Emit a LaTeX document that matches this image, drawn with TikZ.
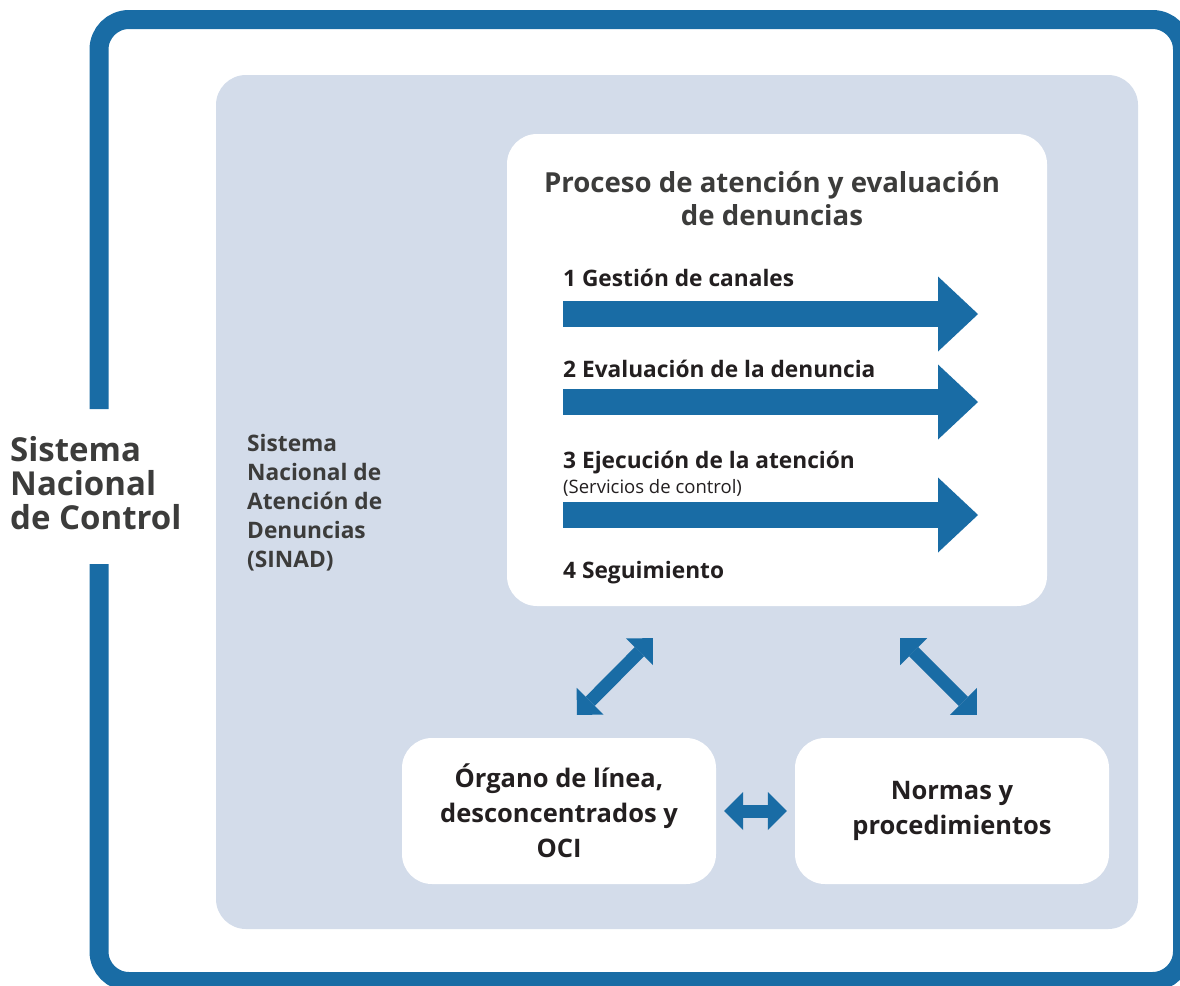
\documentclass[tikz,border=0pt]{standalone}
\usepackage{fontspec}
\setmainfont{Open Sans}
\usetikzlibrary{arrows.meta,positioning}

\definecolor{sinadblue}{RGB}{25,108,165}
\definecolor{panelblue}{RGB}{211,220,234}
\definecolor{inkgray}{RGB}{60,60,59}
\definecolor{inkblack}{RGB}{35,31,32}

\begin{document}
\begin{tikzpicture}[
                        x=1pt,
                        y=-1pt,
                        node distance=393pt,
                        every node/.style={inner sep=0pt},
                        box/.style={fill=white,rounded corners=30pt,text=inkblack,align=center,
                                    font=\bfseries\fontsize{25.5}{35}\selectfont},
                        heading/.style={align=left,text=inkgray},
                        steplabel/.style={anchor=base west,text=inkblack,
                                    font=\bfseries\fontsize{22.7}{25}\selectfont},
                        bigarrow/.style={sinadblue,line width=26pt,
                                    -{Triangle[length=40pt,width=75pt,line width=0pt]}},
                        linkarrow/.style={sinadblue,line width=13pt,
                                    {Triangle[length=19pt,width=38pt,line width=0pt]}-{Triangle[length=19pt,width=38pt,line width=0pt]}}
                    ]
                    \useasboundingbox (0,0) rectangle (1180,985);

                    % outer frame, open on the left for the label
                    \draw[sinadblue,line width=19pt,rounded corners=30pt]
                        (99,564) -- (99,981.5) -- (1182.5,981.5) -- (1182.5,19.5) -- (99,19.5) -- (99,409);
                    \fill[panelblue,rounded corners=30pt] (216,75) rectangle (1138,929);

                    \node[heading,anchor=north west,font=\bfseries\fontsize{33}{34}\selectfont] (snc) at (10,436)
                        {Sistema\\Nacional\\de Control};
                    \node[heading,anchor=north west,font=\bfseries\fontsize{22.7}{29}\selectfont] (sinad) at (247,434)
                        {Sistema\\Nacional de\\Atención de\\Denuncias\\(SINAD)};

                    \node[box,minimum width=540pt,minimum height=472pt] (proc) at (777,370) {};
                    \node[box,minimum width=314pt,minimum height=146pt] (org) at (559,811)
                        {Órgano de línea,\\desconcentrados y\\OCI};
                    \node[box,minimum width=314pt,minimum height=146pt] (norm) [right of=org]
                        {Normas y\\procedimientos};

                    \node[heading,align=center,anchor=north,font=\bfseries\fontsize{27.6}{33}\selectfont] (title) at (772,171)
                        {Proceso de atención y evaluación\\de denuncias};
                    \node[steplabel] (s1) at (563,286) {1 Gestión de canales};
                    \node[steplabel] (s2) at (563,377) {2 Evaluación de la denuncia};
                    \node[steplabel] (s3) at (563,468) {3 Ejecución de la atención};
                    \node[anchor=base west,text=inkblack,font=\fontsize{18.5}{20}\selectfont] (s3sub) at (563,493)
                        {(Servicios de control)};
                    \node[steplabel] (s4) at (563,578) {4 Seguimiento};

                    \foreach \y in {314,402,515}
                        \draw[bigarrow] (563,\y) -- (978,\y);

                    \coordinate (pl) at ([xshift=146pt,yshift=-32pt]proc.south west);
                    \coordinate (pr) at ([xshift=-147pt,yshift=-32pt]proc.south east);
                    \coordinate (ol) at ([xshift=175pt,yshift=23pt]org.north west);
                    \coordinate (nr) at ([xshift=182pt,yshift=23pt]norm.north west);

                    \draw[linkarrow] (ol) -- (pl);
                    \draw[linkarrow] (nr) -- (pr);
                    \draw[linkarrow] ([xshift=8pt]org.east) -- ([xshift=-8pt]norm.west);
                \end{tikzpicture}
\end{document}
